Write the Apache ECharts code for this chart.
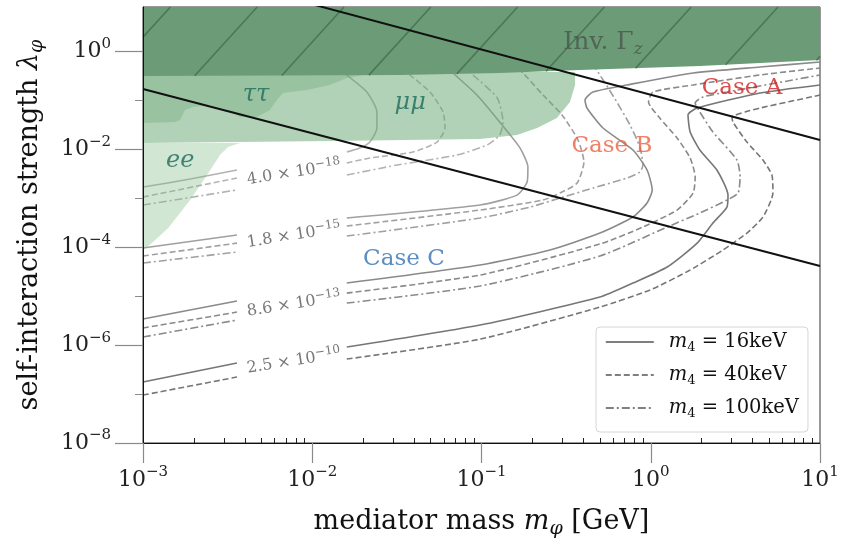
<!DOCTYPE html>
<html>
<head>
<meta charset="utf-8">
<script src="https://cdn.jsdelivr.net/npm/echarts@6/dist/echarts.min.js"></script>
<style>
  html, body { margin: 0; padding: 0; background: #fff; }
  #chart { width: 845px; height: 544px; }
</style>
</head>
<body>
<div id="chart"></div>
<script>
const FONT = 'DejaVu Serif';

// ---- axes (mediator mass in GeV, self-interaction strength) ----
const massRange = [1e-3, 10];
const lambdaRange = [1e-8, 8.2];
const xMajorTicks = [1e-3, 1e-2, 1e-1, 1, 10];
const yMajorTicks = [1e-8, 1e-6, 1e-4, 1e-2, 1];
const yMinorTicks = [1e-7, 1e-5, 1e-3, 1e-1];

// ---- contour levels ----
const levelMantissa = ['4.0', '1.8', '8.6', '2.5'];
const levelExponent = ['−18', '−15', '−13', '−10'];
const legendNames = ['m4 = 16keV', 'm4 = 40keV', 'm4 = 100keV'];

// [mass GeV, lambda]; null = gap kept free for the level label
const lvl18_16keV = [[1e-3,1.71e-3],[1.9e-3,2.49e-3],[3.59e-3,3.81e-3],null,[1.6e-2,8.89e-3],[1.91e-2,1.07e-2],[2.19e-2,1.42e-2],[2.41e-2,2.75e-2],[2.41e-2,5.85e-2],[2.1e-2,0.15],[1.6e-2,0.334],[1.36e-2,0.535]];
const lvl18_40keV = [[1e-3,1.07e-3],[3.59e-3,2.61e-3],null,[1.6e-2,5.3e-3],[2.19e-2,6.7e-3],[3.94e-2,8.89e-3],[5.46e-2,1.42e-2],[6.09e-2,2.75e-2],[5.93e-2,5.85e-2],[4.96e-2,0.15],[3.78e-2,0.334],[3.21e-2,0.535]];
const lvl18_100keV = [[1e-3,7.33e-4],[3.59e-3,1.49e-3],null,[1.6e-2,3.01e-3],[3.17e-2,4.82e-3],[7.17e-2,7.72e-3],[0.108,1.24e-2],[0.128,1.98e-2],[0.134,3.65e-2],[0.124,0.113],[8.91e-2,0.334],[7.67e-2,0.535]];

const lvl15_16keV = [[1e-3,9.68e-5],[3.59e-3,1.79e-4],null,[1.6e-2,3.97e-4],[9.8e-2,7.33e-4],[0.162,1.17e-3],[0.186,2.16e-3],[0.188,4.39e-3],[0.169,1.07e-2],[0.128,3.65e-2],[9.4e-2,0.13],[6.79e-2,0.367],[5.69e-2,0.676]];
const lvl15_40keV = [[1e-3,6.64e-5],[3.59e-3,1.22e-4],null,[1.6e-2,2.73e-4],[9.8e-2,5.79e-4],[0.231,9.27e-4],[0.291,1.29e-3],[0.367,2.06e-3],[0.403,5.55e-3],[0.372,1.56e-2],[0.299,5.08e-2],[0.231,0.13],[0.176,0.367],[0.147,0.676]];
const lvl15_100keV = [[1e-3,4.78e-5],[3.59e-3,8.02e-5],null,[1.6e-2,1.7e-4],[9.8e-2,3.97e-4],[0.194,6.67e-4],[0.291,1.02e-3],[0.456,1.63e-3],[0.724,2.61e-3],[0.863,3.47e-3],[0.899,4.82e-3],[0.863,1.12e-2],[0.754,3.17e-2],[0.615,0.108],[0.488,0.384],[0.438,0.676]];

const lvl13_16keV = [[1e-3,3.42e-6],[3.59e-3,7.97e-6],null,[1.6e-2,1.86e-5],[9.8e-2,4.35e-5],[0.254,8.81e-5],[0.501,1.96e-4],[0.785,4.17e-4],[0.951,8.05e-4],[1.02,1.49e-3],[0.951,3.81e-3],[0.785,9.77e-3],[0.522,2.75e-2],[0.42,7.06e-2],[0.409,0.103],[0.456,0.15],[0.724,0.209],[1.78,0.367],[4.42,0.487],[10,0.616]];
const lvl13_40keV = [[1e-3,2.24e-6],[3.59e-3,4.75e-6],null,[1.6e-2,1.16e-5],[9.8e-2,2.72e-5],[0.501,1.17e-4],[0.899,2.6e-4],[1.43,5.79e-4],[1.78,1.29e-3],[1.83,2.74e-3],[1.71,6.7e-3],[1.43,1.72e-2],[1.13,4.41e-2],[0.97,9.35e-2],[1.03,0.15],[1.78,0.209],[4.42,0.334],[10,0.464]];
const lvl13_100keV = [[1e-3,1.47e-6],[3.59e-3,3.26e-6],null,[1.6e-2,7.26e-6],[9.8e-2,1.62e-5],[0.501,6.64e-5],[1.25,2.6e-4],[1.95,5.03e-4],[2.82,9.27e-4],[3.28,1.29e-3],[3.37,2.74e-3],[3.23,6.1e-3],[2.33,2.28e-2],[1.95,5.85e-2],[1.83,8.93e-2],[2.04,0.119],[2.82,0.15],[6.92,0.264],[10,0.334]];

const lvl10_16keV = [[1e-3,1.76e-7],[3.59e-3,4.31e-7],null,[1.6e-2,9.15e-7],[9.8e-2,2.58e-6],[0.501,9.63e-6],[0.785,1.86e-5],[1.25,3.96e-5],[1.88,1.22e-4],[2.33,3.14e-4],[2.82,6.67e-4],[2.86,1.17e-3],[2.46,3.81e-3],[1.95,9.77e-3],[1.71,2.28e-2],[1.66,5.08e-2],[1.88,7.06e-2],[4.42,0.143],[10,0.209]];
const lvl10_40keV = [[1e-3,9.55e-8],[3.59e-3,2.23e-7],null,[1.6e-2,5.2e-7],[9.8e-2,1.33e-6],[0.501,6.01e-6],[0.99,1.34e-5],[1.71,3.44e-5],[2.67,8.81e-5],[3.7,1.96e-4],[4.6,4.17e-4],[5.27,1.29e-3],[5.2,3.01e-3],[4.6,6.1e-3],[3.7,1.42e-2],[3.06,3.65e-2],[3.02,4.62e-2],[3.61,5.85e-2],[4.42,7.06e-2],[10,0.13]];

// label anchors for the four levels
const levelLabelAt = [[7.8e-3,3.36e-3],[7.8e-3,1.75e-4],[7.8e-3,6.84e-6],[7.8e-3,4.71e-7]];

// ---- excluded regions ----
const invZBound = [[1e-3,0.319],[3.3e-2,0.334],[0.128,0.367],[0.382,0.422],[0.863,0.464],[1.95,0.51],[4.42,0.587],[10,0.676]];
const muMuRegion = [[1e-3,0.384],[0.357,0.384],[0.357,0.209],[0.333,9.35e-2],[0.279,4.41e-2],[0.213,2.75e-2],[0.162,1.98e-2],[9.8e-2,1.64e-2],[1.27e-2,1.49e-2],[1e-3,1.36e-2]];
const eeRegion = [[1e-3,1.36e-2],[3.74e-3,1.36e-2],[3.18e-3,1.12e-2],[2.85e-3,7.72e-3],[2.39e-3,3.01e-3],[1.9e-3,9.27e-4],[1.41e-3,2.48e-4],[1.13e-3,1.22e-4],[1e-3,8.81e-5]];
const tauTauRegion = [[1e-3,0.384],[2.05e-2,0.384],[2.0e-2,0.334],[1.6e-2,0.29],[1.27e-2,0.209],[9.31e-3,0.165],[6.71e-3,0.143],[6.19e-3,0.103],[5.62e-3,6.42e-2],[4.72e-3,4.62e-2],[3.74e-3,4.62e-2],[3.13e-3,6.42e-2],[2.49e-3,8.13e-2],[1.97e-3,7.4e-2],[1.77e-3,6.42e-2],[1.66e-3,4.01e-2],[1.55e-3,3.65e-2],[1e-3,3.48e-2]];

// ---- case boundaries ----
const boundaryUpper = [[7.9e-3,11.6],[10,1.56e-2]];
const boundaryLower = [[1e-3,0.173],[10,4.15e-5]];

// ---- text annotations ----
const caseLabels = [
  { text: 'Case A', at: [3.46, 0.181], color: '#d41f1f' },
  { text: 'Case B', at: [0.59, 1.17e-2], color: '#ec6240' },
  { text: 'Case C', at: [3.48e-2, 5.74e-5], color: '#3373b0' }
];
const channelLabels = [
  { text: 'ee', at: [1.66e-3, 5.82e-3] },
  { text: 'ττ', at: [4.66e-3, 0.13] },
  { text: 'μμ', at: [3.79e-2, 8.93e-2] }
];
const invZLabelAt = [0.522, 1.51];

// ---------------------------------------------------------------
const levelColors = ['#b3b3b3', '#a0a0a0', '#8a8a8a', '#767676'];
const dashTypes = ['solid', [6, 3], [8, 3, 2, 3]];
const contourTable = [
  [lvl18_16keV, lvl18_40keV, lvl18_100keV],
  [lvl15_16keV, lvl15_40keV, lvl15_100keV],
  [lvl13_16keV, lvl13_40keV, lvl13_100keV],
  [lvl10_16keV, lvl10_40keV, null]
];

const series = [];

contourTable.forEach((styles, li) => {
  styles.forEach((pts, si) => {
    if (!pts) return;
    const cut = pts.indexOf(null);
    [pts.slice(0, cut), pts.slice(cut + 1)].forEach(part => {
      series.push({
        type: 'line', name: legendNames[si], data: part,
        symbol: 'none', smooth: 0.2, silent: true, z: 2, clip: true,
        itemStyle: { color: '#555', opacity: 0 },
        lineStyle: { color: levelColors[li], width: 1.6, type: dashTypes[si], opacity: 1 }
      });
    });
  });
});

function regionSeries(points, fill, z) {
  return {
    type: 'custom', coordinateSystem: 'cartesian2d', silent: true, z: z,
    data: [points[0]],
    renderItem: (params, api) => ({
      type: 'polygon',
      shape: { points: points.map(p => api.coord(p)) },
      style: { fill: fill }
    })
  };
}

series.push(regionSeries(eeRegion, 'rgba(120,182,126,0.34)', 3));
series.push(regionSeries(muMuRegion, 'rgba(100,166,110,0.5)', 3));
series.push(regionSeries(tauTauRegion, 'rgba(80,145,92,0.24)', 3));

// invisible-Z-width region with diagonal hatching
series.push({
  type: 'custom', coordinateSystem: 'cartesian2d', silent: true, z: 4,
  data: [invZBound[0]],
  renderItem: (params, api) => {
    const top = api.coord([massRange[0], lambdaRange[1]])[1];
    const xl = api.coord([massRange[0], 1])[0];
    const xr = api.coord([massRange[1], 1])[0];
    const bottom = invZBound.map(p => api.coord(p));
    const poly = [[xl, top], [xr, top]].concat(bottom.slice().reverse());
    const children = [{ type: 'polygon', shape: { points: poly }, style: { fill: '#6b9c77' } }];
    const yBottom = x => {
      for (let i = 0; i < bottom.length - 1; i++) {
        const a = bottom[i], b = bottom[i + 1];
        if (x >= a[0] && x <= b[0]) return a[1] + (b[1] - a[1]) * (x - a[0]) / (b[0] - a[0]);
      }
      return x < bottom[0][0] ? bottom[0][1] : bottom[bottom.length - 1][1];
    };
    const step = 86.8, slope = 1.1, phase = 27.4;
    for (let xt = xl + phase - 3 * step; xt < xr + 3 * step; xt += step) {
      const yLine = x => top + slope * (xt - x);
      let lo = xt - 400, hi = xt;
      for (let k = 0; k < 40; k++) {
        const mid = (lo + hi) / 2;
        if (yLine(mid) > yBottom(mid)) lo = mid; else hi = mid;
      }
      let x0 = (lo + hi) / 2, y0 = yBottom(x0);
      let x1 = xt, y1 = top;
      if (x0 < xl) { x0 = xl; y0 = yLine(xl); }
      if (x1 > xr) { x1 = xr; y1 = yLine(xr); }
      if (x1 <= x0 || y0 <= top) continue;
      children.push({ type: 'line', shape: { x1: x0, y1: y0, x2: x1, y2: y1 },
        style: { stroke: '#4a7856', lineWidth: 1.6 } });
    }
    return { type: 'group', children: children };
  }
});

[boundaryUpper, boundaryLower].forEach(pts => {
  series.push({
    type: 'line', data: pts, symbol: 'none', silent: true, z: 5, clip: true,
    lineStyle: { color: '#111', width: 2 }
  });
});

// text labels placed at data positions
const textItems = [];
levelLabelAt.forEach((p, i) => {
  textItems.push({
    value: p,
    label: {
      formatter: '{n|' + levelMantissa[i] + ' × 10}{s|' + levelExponent[i] + '}',
      rotate: 9,
      rich: {
        n: { fontFamily: FONT, fontSize: 16, color: '#555', lineHeight: 21 },
        s: { fontFamily: FONT, fontSize: 12, color: '#555', lineHeight: 12, verticalAlign: 'top' }
      }
    }
  });
});
caseLabels.forEach(c => {
  textItems.push({ value: c.at, label: { formatter: c.text, color: c.color, fontFamily: FONT, fontSize: 23 } });
});
channelLabels.forEach(c => {
  textItems.push({ value: c.at, label: { formatter: c.text, color: '#1d6b5d', fontFamily: FONT, fontSize: 24, fontStyle: 'italic' } });
});
textItems.push({
  value: invZLabelAt,
  label: {
    formatter: '{t|Inv. Γ}{z|z}',
    rich: {
      t: { fontFamily: FONT, fontSize: 25, color: '#4a564c', lineHeight: 30 },
      z: { fontFamily: FONT, fontSize: 17, fontStyle: 'italic', color: '#4a564c', lineHeight: 16, verticalAlign: 'bottom' }
    }
  }
});
series.push({
  type: 'scatter', data: textItems, symbolSize: 0, silent: true, z: 8,
  label: { show: true, position: 'inside' }
});

const supLabel = v => {
  const e = Math.round(Math.log10(v));
  return '{b|10}{s|' + (e < 0 ? '−' + (-e) : e) + '}';
};
const tickRich = {
  b: { fontFamily: FONT, fontSize: 22, color: '#222', lineHeight: 30 },
  s: { fontFamily: FONT, fontSize: 15, color: '#222', lineHeight: 15, verticalAlign: 'top' }
};
const xMinor = [];
for (let d = -3; d < 1; d++) for (let k = 2; k <= 9; k++) xMinor.push(k * Math.pow(10, d));

const chart = echarts.init(document.getElementById('chart'), null, { renderer: 'canvas' });
chart.setOption({
  animation: false,
  backgroundColor: '#fff',
  grid: { left: 143, top: 7, width: 677, height: 437, show: true, borderColor: '#333', borderWidth: 1, backgroundColor: 'transparent' },
  legend: {
    data: legendNames.map((n, i) => ({
      name: n,
      itemStyle: { opacity: 0, borderWidth: 0 },
      lineStyle: { color: '#555', width: 1.6, type: dashTypes[i], opacity: 1 }
    })),
    orient: 'vertical', left: 596, top: 327, z: 20,
    itemWidth: 48, itemHeight: 14, itemGap: 11,
    padding: [5, 9, 12, 9],
    borderColor: '#d6d6d6', borderWidth: 1, borderRadius: 4,
    backgroundColor: 'rgba(255,255,255,0.85)', selectedMode: false,
    formatter: n => '{g|}{i|m}{sub|4}{t|' + n.slice(2) + '}',
    textStyle: {
      rich: {
        g: { width: 10 },
        i: { fontFamily: FONT, fontSize: 19.5, fontStyle: 'italic', color: '#111', lineHeight: 24 },
        sub: { fontFamily: FONT, fontSize: 13, color: '#111', lineHeight: 14, verticalAlign: 'bottom' },
        t: { fontFamily: FONT, fontSize: 19.5, color: '#111', lineHeight: 24 }
      }
    }
  },
  xAxis: [
    {
      type: 'log', logBase: 10, min: massRange[0], max: massRange[1], position: 'bottom', z: 10,
      axisLine: { show: true, lineStyle: { color: '#111', width: 1 } },
      axisTick: { show: true, customValues: xMajorTicks, length: 20, lineStyle: { color: '#8a8a8a', width: 1.2 } },
      axisLabel: { customValues: xMajorTicks, margin: 22, formatter: supLabel, rich: tickRich },
      splitLine: { show: false },
      name: '{t|mediator mass }{i|m}{sub|φ}{t| [GeV]}', nameLocation: 'middle', nameGap: 62,
      nameTextStyle: { rich: {
        t: { fontFamily: FONT, fontSize: 27, color: '#111', lineHeight: 34 },
        i: { fontFamily: FONT, fontSize: 27, fontStyle: 'italic', color: '#111', lineHeight: 34 },
        sub: { fontFamily: FONT, fontSize: 19, fontStyle: 'italic', color: '#111', lineHeight: 20, verticalAlign: 'bottom' }
      } }
    },
    {
      type: 'log', logBase: 10, min: massRange[0], max: massRange[1], position: 'bottom', z: 10,
      axisLine: { show: false },
      axisTick: { show: true, inside: true, customValues: xMinor, length: 5, lineStyle: { color: '#222', width: 1 } },
      axisLabel: { show: false }, splitLine: { show: false }
    }
  ],
  yAxis: [
    {
      type: 'log', logBase: 10, min: lambdaRange[0], max: lambdaRange[1], position: 'left', z: 10,
      axisLine: { show: true, lineStyle: { color: '#111', width: 1 } },
      axisTick: { show: true, customValues: yMajorTicks, length: 28, lineStyle: { color: '#8a8a8a', width: 1.2 } },
      axisLabel: { customValues: yMajorTicks, margin: 32, formatter: supLabel, rich: tickRich },
      splitLine: { show: false },
      name: '{t|self-interaction strength }{i|λ}{sub|φ}', nameLocation: 'middle', nameGap: 96, nameRotate: 90,
      nameTextStyle: { rich: {
        t: { fontFamily: FONT, fontSize: 27, color: '#111', lineHeight: 34 },
        i: { fontFamily: FONT, fontSize: 27, fontStyle: 'italic', color: '#111', lineHeight: 34 },
        sub: { fontFamily: FONT, fontSize: 19, fontStyle: 'italic', color: '#111', lineHeight: 20, verticalAlign: 'bottom' }
      } }
    },
    {
      type: 'log', logBase: 10, min: lambdaRange[0], max: lambdaRange[1], position: 'left', z: 10,
      axisLine: { show: false },
      axisTick: { show: true, customValues: yMinorTicks, length: 8, lineStyle: { color: '#8a8a8a', width: 1 } },
      axisLabel: { show: false }, splitLine: { show: false }
    }
  ],
  series: series
});
</script>
</body>
</html>
